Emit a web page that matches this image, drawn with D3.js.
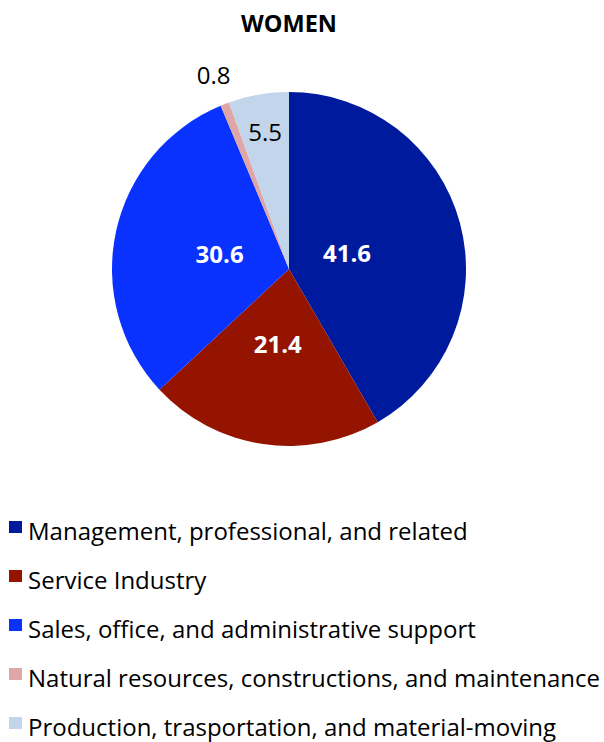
<!DOCTYPE html>
<html>
<head>
<meta charset="utf-8">
<script src="https://cdn.jsdelivr.net/npm/d3@7"></script>
<style>
  body { margin: 0; background: #fff; }
  svg text { font-family: "Open Sans", sans-serif; }
</style>
</head>
<body>
<svg width="604" height="742"></svg>
<script>
// women, share of employment by occupation (%)
var categories = [
  'Management, professional, and related',
  'Service Industry',
  'Sales, office, and administrative support',
  'Natural resources, constructions, and maintenance',
  'Production, trasportation, and material-moving'
];
var values = [41.6, 21.4, 30.6, 0.8, 5.5];
var labels = ['41.6', '21.4', '30.6', '0.8', '5.5'];
var colors = ['#001a9e', '#951400', '#0a32ff', '#dea6a6', '#c3d5ea'];

var svg = d3.select('svg'),
  cx = 289, cy = 269, R = 177;

svg.append('text')
  .attr('x', cx).attr('y', 32)
  .attr('text-anchor', 'middle')
  .attr('font-weight', 'bold')
  .attr('font-size', 23.5)
  .text('WOMEN');

var pie = d3.pie().sort(null).value(function (d) { return d; });
var arcs = pie(values);
var arc = d3.arc().innerRadius(0).outerRadius(R);

var g = svg.append('g').attr('transform', 'translate(' + cx + ',' + cy + ')');

g.selectAll('path').data(arcs).enter().append('path')
  .attr('d', arc)
  .attr('fill', function (d, i) { return colors[i]; });

// label distance from centre, per slice
var labelR = [60, 76, 71, 208, 139];
var inside = [true, true, true, false, false];

g.selectAll('text.lbl').data(arcs).enter().append('text')
  .attr('class', 'lbl')
  .attr('transform', function (d, i) {
    var a = (d.startAngle + d.endAngle) / 2;
    return 'translate(' + (labelR[i] * Math.sin(a)) + ',' + (-labelR[i] * Math.cos(a)) + ')';
  })
  .attr('text-anchor', 'middle')
  .attr('dy', '0.36em')
  .attr('font-size', 24)
  .attr('font-weight', function (d, i) { return inside[i] ? 'bold' : 'normal'; })
  .attr('fill', function (d, i) { return inside[i] ? '#fff' : '#000'; })
  .text(function (d, i) { return labels[i]; });

var leg = svg.selectAll('g.leg').data(categories).enter().append('g')
  .attr('class', 'leg')
  .attr('transform', function (d, i) { return 'translate(0,' + (540 + i * 49) + ')'; });

leg.append('rect')
  .attr('x', 9).attr('y', -19).attr('width', 13).attr('height', 12)
  .attr('fill', function (d, i) { return colors[i]; });

leg.append('text')
  .attr('x', 28).attr('y', 0)
  .attr('font-size', 24)
  .text(function (d) { return d; });
</script>
</body>
</html>
